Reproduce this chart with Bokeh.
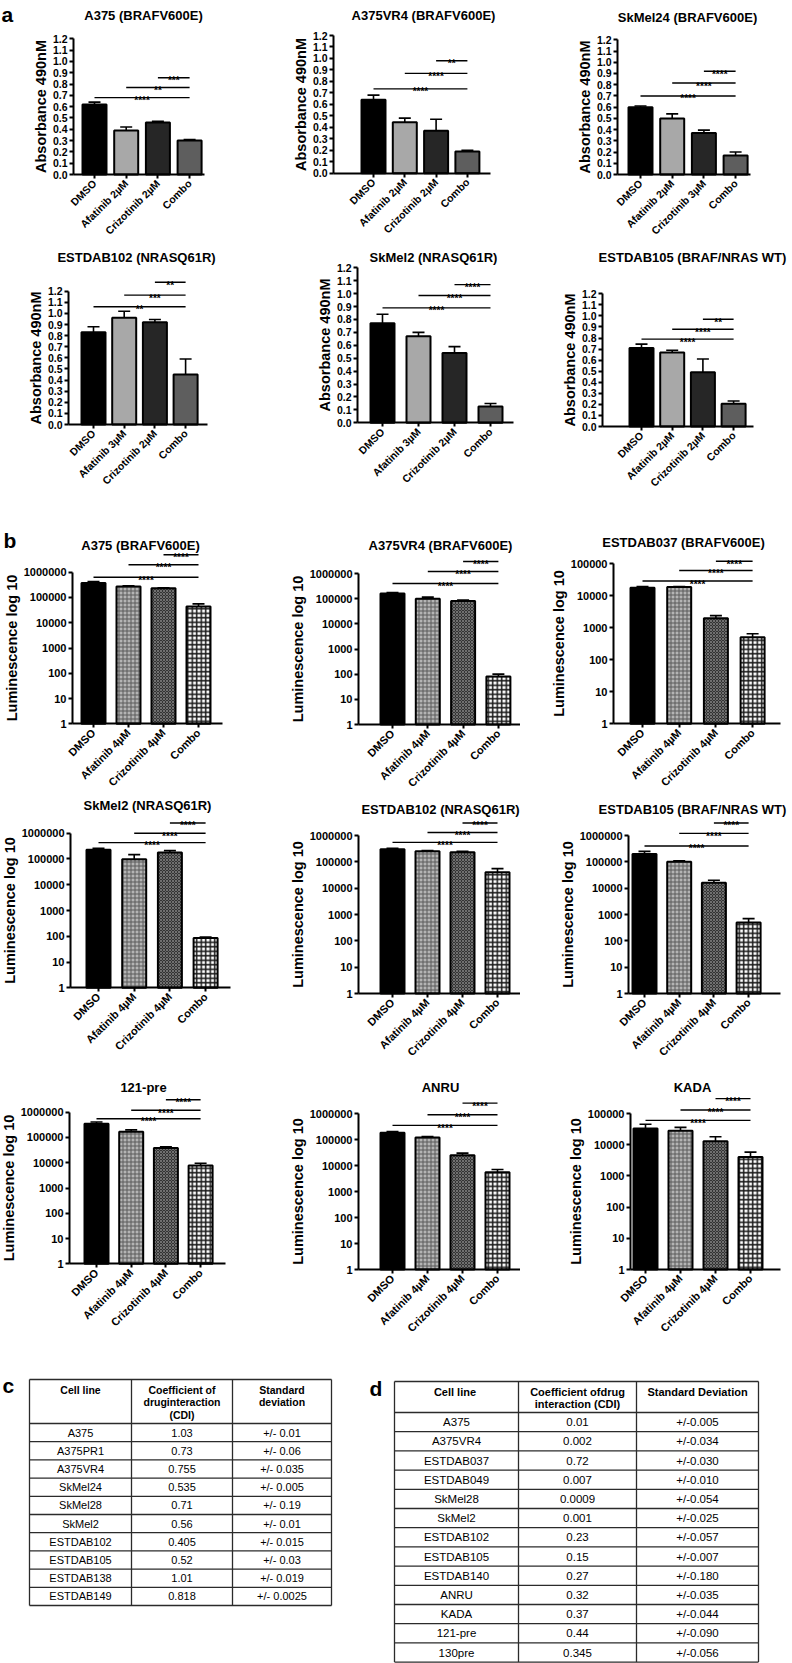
import math
from bokeh.plotting import figure
from bokeh.layouts import column, row
from bokeh.models import Range1d, FixedTicker, NumeralTickFormatter, Label
from bokeh.core.properties import value
from bokeh.embed import file_html
from bokeh.resources import INLINE

FONT = "Liberation Sans"

# ---------------- panel a data (absorbance) ----------------
a_titles = ["A375 (BRAFV600E)", "A375VR4 (BRAFV600E)", "SkMel24 (BRAFV600E)",
            "ESTDAB102 (NRASQ61R)", "SkMel2 (NRASQ61R)", "ESTDAB105 (BRAF/NRAS WT)"]
a_labels = [
    ["DMSO", "Afatinib 2µM", "Crizotinib 2µM", "Combo"],
    ["DMSO", "Afatinib 2µM", "Crizotinib 2µM", "Combo"],
    ["DMSO", "Afatinib 2µM", "Crizotinib 3µM", "Combo"],
    ["DMSO", "Afatinib 3µM", "Crizotinib 2µM", "Combo"],
    ["DMSO", "Afatinib 3µM", "Crizotinib 2µM", "Combo"],
    ["DMSO", "Afatinib 2µM", "Crizotinib 2µM", "Combo"],
]
a_means = [
    [0.62, 0.39, 0.46, 0.30],
    [0.64, 0.445, 0.37, 0.19],
    [0.60, 0.50, 0.37, 0.17],
    [0.83, 0.96, 0.92, 0.45],
    [0.77, 0.67, 0.54, 0.126],
    [0.71, 0.67, 0.49, 0.205],
]
a_errs = [
    [0.02, 0.03, 0.01, 0.01],
    [0.04, 0.035, 0.10, 0.01],
    [0.01, 0.04, 0.025, 0.03],
    [0.05, 0.06, 0.025, 0.14],
    [0.07, 0.03, 0.05, 0.024],
    [0.035, 0.02, 0.12, 0.025],
]
a_sig_y = [
    [0.68, 0.77, 0.855],
    [0.735, 0.87, 0.98],
    [0.70, 0.815, 0.92],
    [1.06, 1.165, 1.28],
    [0.89, 0.986, 1.07],
    [0.79, 0.88, 0.97],
]
a_sig_txt = [
    ["****", "**", "***"],
    ["****", "****", "**"],
    ["****", "****", "****"],
    ["**", "***", "**"],
    ["****", "****", "****"],
    ["****", "****", "**"],
]

# ---------------- panel b data (luminescence, log) ----------------
b_titles = ["A375 (BRAFV600E)", "A375VR4 (BRAFV600E)", "ESTDAB037 (BRAFV600E)",
            "SkMel2 (NRASQ61R)", "ESTDAB102 (NRASQ61R)", "ESTDAB105 (BRAF/NRAS WT)",
            "121-pre", "ANRU", "KADA"]
b_labels = ["DMSO", "Afatinib 4µM", "Crizotinib 4µM", "Combo"]
b_axis_max = [1e6, 1e6, 1e5, 1e6, 1e6, 1e6, 1e6, 1e6, 1e5]
b_means = [
    [3.7e5, 2.7e5, 2.3e5, 4.4e4],
    [1.6e5, 1.0e5, 8.0e4, 80],
    [1.78e4, 1.87e4, 2.0e3, 510],
    [2.3e5, 9.8e4, 1.8e5, 85],
    [3.0e5, 2.5e5, 2.3e5, 4.0e4],
    [2.0e5, 1.0e5, 1.6e4, 500],
    [3.5e5, 1.7e5, 3.8e4, 7.8e3],
    [1.8e5, 1.2e5, 2.5e4, 5.5e3],
    [3.3e4, 2.8e4, 1.3e4, 4.0e3],
]
b_errs = [
    [6e4, 2e4, 1e4, 1.2e4],
    [1.5e4, 1.5e4, 8e3, 20],
    [1.7e3, 800, 400, 140],
    [3e4, 5e4, 3e4, 8],
    [3e4, 2e4, 2e4, 1.5e4],
    [5e4, 1e4, 4e3, 200],
    [6e4, 3e4, 5e3, 1.8e3],
    [2e4, 1e4, 5e3, 1.5e3],
    [1.2e4, 8e3, 5e3, 1.8e3],
]
b_sig_y = [
    [6.3e5, 1.96e6, 4.9e6],
    [4.0e5, 1.2e6, 3.0e6],
    [2.9e4, 6.2e4, 1.2e5],
    [4.3e5, 1.0e6, 2.5e6],
    [5.5e5, 1.3e6, 3.0e6],
    [4.0e5, 1.2e6, 3.0e6],
    [5.5e5, 1.2e6, 3.1e6],
    [3.5e5, 9.0e5, 2.5e6],
    [6.0e4, 1.3e5, 3.0e5],
]
b_sig_txt = ["****", "****", "****"]

# ---------------- tables ----------------
c_header = ["Cell line", "Coefficient of\ndruginteraction\n(CDI)", "Standard\ndeviation"]
c_cell_line = ["A375", "A375PR1", "A375VR4", "SkMel24", "SkMel28", "SkMel2",
               "ESTDAB102", "ESTDAB105", "ESTDAB138", "ESTDAB149"]
c_cdi = ["1.03", "0.73", "0.755", "0.535", "0.71", "0.56", "0.405", "0.52", "1.01", "0.818"]
c_sd = ["+/- 0.01", "+/- 0.06", "+/- 0.035", "+/- 0.005", "+/- 0.19", "+/- 0.01",
        "+/- 0.015", "+/- 0.03", "+/- 0.019", "+/- 0.0025"]
d_header = ["Cell  line", "Coefficient ofdrug\ninteraction (CDI)", "Standard Deviation"]
d_cell_line = ["A375", "A375VR4", "ESTDAB037", "ESTDAB049", "SkMel28", "SkMel2", "ESTDAB102",
               "ESTDAB105", "ESTDAB140", "ANRU", "KADA", "121-pre", "130pre"]
d_cdi = ["0.01", "0.002", "0.72", "0.007", "0.0009", "0.001", "0.23", "0.15", "0.27",
         "0.32", "0.37", "0.44", "0.345"]
d_sd = ["+/-0.005", "+/-0.034", "+/-0.030", "+/-0.010", "+/-0.054", "+/-0.025", "+/-0.057",
        "+/-0.007", "+/-0.180", "+/-0.035", "+/-0.044", "+/-0.090", "+/-0.056"]

# ---------------- layout constants (page pixel coordinates) ----------------
COLS = [(0, 260), (260, 520), (520, 792)]
ROWS = [(0, 250), (250, 520), (520, 795), (795, 1075), (1075, 1345)]

A_LAY = [  # frame_left, frame_right, baseline_px, top_tick_px, first_bar_px, step_px, title_x, title_y
    (73, 204, 174, 38.3, 94, 31.7, 143, 15),
    (333, 490, 172.7, 35, 373, 31.3, 423, 15),
    (617, 750, 174, 39.3, 640, 31.7, 687, 17),
    (68, 207, 424, 290.7, 93, 30.7, 136, 257),
    (357, 513, 422.3, 267.3, 382, 36, 433, 257),
    (602, 753, 426, 293.3, 641, 30.7, 692, 257),
]
B_LAY = [
    (72, 222, 723.3, 571.7, 93, 35, 140, 545),
    (358, 520, 724, 573, 392, 35.3, 440, 545),
    (613, 780, 723.3, 563.3, 642, 36.7, 683, 542),
    (70, 230, 987.3, 832.7, 98, 35.7, 147, 805),
    (358, 520, 993, 835, 392, 35, 440, 809),
    (628, 780, 993, 835, 644, 34.7, 692, 809),
    (69, 225, 1263.3, 1111.7, 96, 34.7, 143, 1087),
    (358, 520, 1269, 1113, 392, 35, 440, 1087),
    (630, 780, 1269, 1113, 645, 35, 692, 1087),
]
BAR_PX = 24
CAP_PX = 6

A_FILL = ["#000000", "#a8a8a8", "#262626", "#5e5e5e"]
B_FILL = ["#000000", "#b4b4b4", "#333333", "#ffffff"]
B_HATCH = [" ", "+", "x", "+"]
B_HATCH_COLOR = ["#000000", "#5a5a5a", "#808080", "#1a1a1a"]
B_HATCH_SCALE = [4, 4, 3, 4.5]
B_HATCH_WEIGHT = [1, 1, 0.8, 1.5]


def style_axes(p, is_log, top_val, tick_size, label_size, xtick_size):
    xa = p.xaxis[0]
    ya = p.yaxis[0]
    for ax in (xa, ya):
        ax.axis_line_width = 2
        ax.major_tick_line_width = 2
        ax.major_tick_out = 4
        ax.major_tick_in = 0
        ax.minor_tick_line_color = None
        ax.major_label_text_font = FONT
        ax.major_label_text_font_style = "bold"
        ax.major_label_text_color = "#000000"
        ax.axis_line_color = "#000000"
        ax.major_tick_line_color = "#000000"
    xa.ticker = FixedTicker(ticks=[0, 1, 2, 3])
    xa.major_label_orientation = math.pi / 4
    xa.major_label_text_font_size = xtick_size
    xa.major_label_standoff = 3
    if is_log:
        n = int(round(math.log10(top_val)))
        ya.ticker = FixedTicker(ticks=[10 ** k for k in range(n + 1)])
        ya.formatter = NumeralTickFormatter(format="0")
        ya.bounds = (1, top_val)
        ya.axis_label = "Luminescence log 10"
    else:
        ya.ticker = FixedTicker(ticks=[k / 10 for k in range(13)])
        ya.formatter = NumeralTickFormatter(format="0.0")
        ya.bounds = (0, top_val)
        ya.axis_label = "Absorbance 490nM"
    ya.major_label_text_font_size = tick_size
    ya.major_label_standoff = 2
    ya.axis_label_standoff = 1
    ya.axis_label_text_font = FONT
    ya.axis_label_text_font_style = "bold"
    ya.axis_label_text_font_size = label_size
    ya.axis_label_text_color = "#000000"


def make_panel(ci, ri, lay, is_log, top_val, labels, means, errs, sig_y, sig_txt, title,
               fills, hatches=None, hcolors=None, hscales=None, hweights=None, letter=None):
    fl, fr, fb, top_px, first_px, step_px, tx, ty = lay
    cx0, cx1 = COLS[ci]
    cy0, cy1 = ROWS[ri]

    def xval(px):
        return (px - first_px) / step_px

    if is_log:
        dec = math.log10(top_val)

        def yval(py):
            return 10 ** (dec * (fb - py) / (fb - top_px))
        base = 1
    else:
        def yval(py):
            return top_val * (fb - py) / (fb - top_px)
        base = 0

    p = figure(width=cx1 - cx0, height=cy1 - cy0,
               x_range=Range1d(xval(cx0), xval(cx1)), y_range=Range1d(yval(cy1), yval(cy0)),
               y_axis_type="log" if is_log else "linear",
               output_backend="svg", toolbar_location=None, min_border=0)
    p.outline_line_color = None
    p.xgrid.visible = False
    p.ygrid.visible = False
    p.background_fill_color = "white"
    p.border_fill_color = "white"

    xs = list(range(len(means)))
    bw = BAR_PX / step_px
    cap = CAP_PX / step_px
    upper = [m + e for m, e in zip(means, errs)]
    p.segment(x0=xs, y0=means, x1=xs, y1=upper, line_color="#000000", line_width=1.6)
    p.segment(x0=[x - cap for x in xs], y0=upper, x1=[x + cap for x in xs], y1=upper,
              line_color="#000000", line_width=1.6)
    kw = dict(x=xs, top=means, bottom=base, width=bw, fill_color=fills,
              line_color="#000000", line_width=2)
    if hatches is not None:
        kw.update(hatch_pattern=hatches, hatch_color=hcolors, hatch_scale=hscales,
                  hatch_weight=hweights)
    p.vbar(**kw)

    starts = [0, 1, 2]
    ends = [3, 3, 3]
    p.segment(x0=starts, y0=sig_y, x1=ends, y1=sig_y, line_color="#000000", line_width=1.4)
    mids = [(s + e) / 2 for s, e in zip(starts, ends)]
    p.text(x=mids, y=sig_y, text=sig_txt, text_align="center", text_baseline="alphabetic",
           y_offset=3, text_font=value(FONT), text_font_style="bold",
           text_font_size="10px", text_color="#000000")

    if is_log:
        style_axes(p, True, top_val, "11px", "14.5px", "11px")
    else:
        style_axes(p, False, top_val, "10.5px", "14.5px", "10.5px")
    p.xaxis[0].major_label_overrides = {i: lab for i, lab in enumerate(labels)}
    # axes drawn at fixed positions inside the full-cell frame
    p.yaxis[0].fixed_location = xval(fl)
    p.xaxis[0].fixed_location = base
    p.xaxis[0].bounds = (xval(fl), xval(fr))

    p.add_layout(Label(x=tx - cx0, y=cy1 - ty, x_units="screen", y_units="screen", text=title,
                       text_align="center", text_baseline="middle", text_font=FONT,
                       text_font_style="bold", text_font_size="13px", text_color="#000000"))
    if letter is not None:
        lt, lx, ly = letter
        p.add_layout(Label(x=lx - cx0, y=cy1 - ly, x_units="screen", y_units="screen", text=lt,
                           text_align="left", text_baseline="alphabetic", text_font=FONT,
                           text_font_style="bold", text_font_size="21px",
                           text_color="#000000"))
    return p


panels_a = []
for i in range(6):
    ci, ri = i % 3, i // 3
    letter = ("a", 1, 14) if i == 0 else None
    panels_a.append(make_panel(ci, ri, A_LAY[i], False, 1.2, a_labels[i], a_means[i], a_errs[i],
                               a_sig_y[i], a_sig_txt[i], a_titles[i], A_FILL, letter=letter))

panels_b = []
for i in range(9):
    ci, ri = i % 3, 2 + i // 3
    letter = ("b", 3, 540) if i == 0 else None
    panels_b.append(make_panel(ci, ri, B_LAY[i], True, b_axis_max[i], b_labels, b_means[i],
                               b_errs[i], b_sig_y[i], b_sig_txt, b_titles[i], B_FILL,
                               B_HATCH, B_HATCH_COLOR, B_HATCH_SCALE, B_HATCH_WEIGHT,
                               letter=letter))

# ---------------- tables figure ----------------
T_TOP, T_BOT = 1345, 1663
TW = 792
TH = T_BOT - T_TOP
tp = figure(width=TW, height=TH, x_range=Range1d(0, TW), y_range=Range1d(TH, 0),
            output_backend="svg", toolbar_location=None, min_border=0)
tp.axis.visible = False
tp.xgrid.visible = False
tp.ygrid.visible = False
tp.outline_line_color = None


def draw_table(p, edges, top, header_h, row_h, header, cols, head_size, body_size):
    n = len(cols[0])
    bottom = top + header_h + n * row_h
    ys = [top, top + header_h] + [top + header_h + (k + 1) * row_h for k in range(n)]
    p.segment(x0=[edges[0]] * len(ys), x1=[edges[-1]] * len(ys), y0=ys, y1=ys,
              line_color="#2b2b2b", line_width=1.3)
    p.segment(x0=edges, x1=edges, y0=[top] * len(edges), y1=[bottom] * len(edges),
              line_color="#2b2b2b", line_width=1.3)
    cxs = [(edges[k] + edges[k + 1]) / 2 for k in range(len(edges) - 1)]
    p.text(x=cxs, y=[top + 4] * len(cxs), text=header, text_align="center",
           text_baseline="top", text_font=value(FONT), text_font_style="bold",
           text_font_size=head_size, text_line_height=1.05, text_color="#000000")
    for j, col in enumerate(cols):
        p.text(x=[cxs[j]] * n, y=[top + header_h + (k + 0.5) * row_h for k in range(n)],
               text=col, text_align="center", text_baseline="middle", text_font=value(FONT),
               text_font_size=body_size, text_color="#000000")


C_EDGES = [29, 131, 232, 331]
D_EDGES = [394, 518, 636, 758]
draw_table(tp, C_EDGES, 1379 - T_TOP, 44, 18.2, c_header, [c_cell_line, c_cdi, c_sd], "10.5px", "11px")
draw_table(tp, D_EDGES, 1381 - T_TOP, 31, 19.2, d_header, [d_cell_line, d_cdi, d_sd], "11px", "11.5px")
tp.text(x=[2, 369], y=[1385 - T_TOP, 1388 - T_TOP], text=["c", "d"], text_align="left",
        text_baseline="alphabetic", text_font=value(FONT), text_font_style="bold",
        text_font_size="21px", text_color="#000000")

layout = column(
    row(*panels_a[0:3]),
    row(*panels_a[3:6]),
    row(*panels_b[0:3]),
    row(*panels_b[3:6]),
    row(*panels_b[6:9]),
    tp,
)

open("out.html", "w").write(file_html(layout, INLINE))
